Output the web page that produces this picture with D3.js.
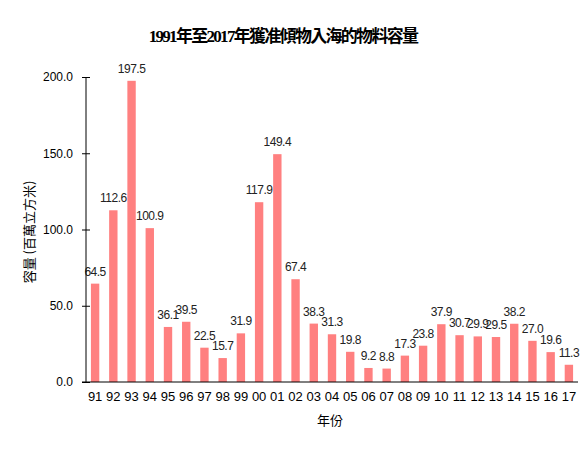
<!DOCTYPE html>
<html><head><meta charset="utf-8">
<script src="https://cdn.jsdelivr.net/npm/d3@7"></script>
<style>body{margin:0;background:#fff}svg{display:block}</style>
</head><body>
<svg id="c" width="584" height="450"></svg>
<script>
const years = ["91","92","93","94","95","96","97","98","99","00","01","02","03","04","05","06","07","08","09","10","11","12","13","14","15","16","17"];
const values = [64.5,112.6,197.5,100.9,36.1,39.5,22.5,15.7,31.9,117.9,149.4,67.4,38.3,31.3,19.8,9.2,8.8,17.3,23.8,37.9,30.7,29.9,29.5,38.2,27.0,19.6,11.3];
const yTicks = [0,50,100,150,200];
const title = "1991年至2017年獲准傾物入海的物料容量";
const yTitle = "容量 (百萬立方米)";
const xTitle = "年份";

const svg = d3.select("#c");
const x = d3.scaleBand().domain(years).range([86,578]).paddingInner(0.54).paddingOuter(0.27);
const y = d3.scaleLinear().domain([0,200]).range([382,77]);

svg.append("text").attr("x",283).attr("y",42).attr("text-anchor","middle")
  .attr("font-family","'Liberation Serif','Noto Sans CJK TC',serif").attr("font-weight","bold")
  .attr("font-size",17).attr("letter-spacing","-1.7").attr("fill","#000").text(title);

svg.selectAll("rect.bar").data(values).join("rect").attr("class","bar")
  .attr("x",(d,i)=>x(years[i])).attr("width",x.bandwidth())
  .attr("y",d=>y(d)).attr("height",d=>y(0)-y(d)).attr("fill","#ff8080");

svg.selectAll("text.lab").data(values).join("text").attr("class","lab")
  .attr("x",(d,i)=>x(years[i])+x.bandwidth()/2).attr("y",d=>y(d)-8)
  .attr("text-anchor","middle").attr("font-family","'Liberation Sans',Arial,sans-serif")
  .attr("font-size",12).attr("letter-spacing","-0.5").attr("fill","#222").text(d=>d.toFixed(1));

const ya = svg.append("g").attr("transform","translate(86,0)")
  .call(d3.axisLeft(y).tickValues(yTicks).tickFormat(d3.format(".1f")).tickSize(4).tickPadding(9));
ya.selectAll(".tick line").attr("x2",4).attr("x1",-4);
ya.select(".domain").attr("d","M0,77V382");
ya.selectAll("text").attr("font-family","'Liberation Sans',Arial,sans-serif").attr("font-size",12).attr("fill","#000");

const xa = svg.append("g").attr("transform","translate(0,382)")
  .call(d3.axisBottom(x).tickSize(0).tickPadding(10));
xa.select(".domain").attr("d","M82,0H578");
xa.selectAll("text").attr("font-family","'Liberation Sans',Arial,sans-serif").attr("font-size",13).attr("fill","#000");

svg.append("text").attr("transform","translate(34,232) rotate(-90)").attr("text-anchor","middle")
  .attr("font-family","'Noto Sans CJK TC',sans-serif").attr("font-size",13).attr("fill","#000").text(yTitle);
svg.append("text").attr("x",330).attr("y",425).attr("text-anchor","middle")
  .attr("font-family","'Noto Sans CJK TC',sans-serif").attr("font-size",13).attr("fill","#000").text(xTitle);
</script>
</body></html>
